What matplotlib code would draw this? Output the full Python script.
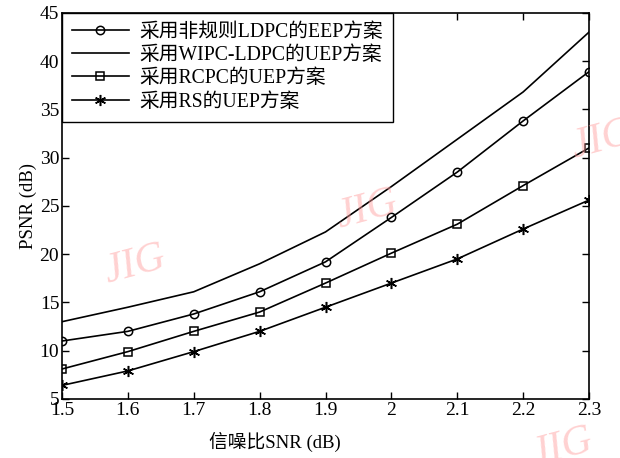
import matplotlib
matplotlib.use("Agg")
import matplotlib.pyplot as plt
import matplotlib.ticker as ticker

# 信噪比 (dB)
snr = [1.5, 1.6, 1.7, 1.8, 1.9, 2.0, 2.1, 2.2, 2.3]

# 各方案的 PSNR (dB)
psnr_eep_ldpc = [11.0, 12.0, 13.8, 16.1, 19.2, 23.8, 28.5, 33.8, 38.9]
psnr_uep_wipc = [13.0, 14.5, 16.1, 19.0, 22.3, 27.0, 31.9, 36.8, 43.0]
psnr_uep_rcpc = [8.1, 9.9, 12.0, 14.0, 17.0, 20.1, 23.1, 27.1, 31.0]
psnr_uep_rs = [6.4, 7.9, 9.9, 12.0, 14.5, 17.0, 19.5, 22.6, 25.6]

labels = [
    "采用非规则LDPC的EEP方案",
    "采用WIPC-LDPC的UEP方案",
    "采用RCPC的UEP方案",
    "采用RS的UEP方案",
]

plt.rcParams["font.family"] = ["Liberation Serif", "Noto Sans CJK SC"]
plt.rcParams["font.size"] = 11
plt.rcParams["xtick.direction"] = "in"
plt.rcParams["ytick.direction"] = "in"
plt.rcParams["xtick.top"] = True
plt.rcParams["ytick.right"] = True

fig = plt.figure(figsize=(6.2, 4.58), dpi=100)
ax = fig.add_axes([0.100, 0.129, 0.850, 0.843])

lw = 1.2
ax.plot(snr, psnr_eep_ldpc, color="black", lw=lw, marker="o", ms=6,
        mfc="none", mec="black", mew=1.1, label=labels[0])
ax.plot(snr, psnr_uep_wipc, color="black", lw=lw, label=labels[1])
ax.plot(snr, psnr_uep_rcpc, color="black", lw=lw, marker="s", ms=6,
        mfc="none", mec="black", mew=1.1, label=labels[2])
ax.plot(snr, psnr_uep_rs, color="black", lw=lw, marker=(6, 2, 0), ms=8,
        mec="black", mew=1.1, label=labels[3])

ax.set_xlim(1.5, 2.3)
ax.set_ylim(5, 45)
ax.xaxis.set_major_locator(ticker.MultipleLocator(0.1))
ax.yaxis.set_major_locator(ticker.MultipleLocator(5))
ax.xaxis.set_major_formatter(ticker.FuncFormatter(lambda v, p: f"{v:g}"))
ax.tick_params(length=5, width=1.0, labelsize=14, pad=2)
for spine in ax.spines.values():
    spine.set_linewidth(1.2)

ax.set_xlabel("信噪比SNR (dB)", fontsize=13.5)
ax.xaxis.set_label_coords(0.404, -0.085)
ax.set_ylabel("PSNR (dB)", fontsize=13.5, labelpad=2)

leg = ax.legend(loc="upper left", bbox_to_anchor=(0, 1), borderaxespad=0,
                fontsize=14.2, numpoints=1, handlelength=2.9, handletextpad=0.5,
                labelspacing=0.22, borderpad=0.5, fancybox=False,
                edgecolor="black", framealpha=1)
leg.get_frame().set_linewidth(1.0)

# 水印
wm = dict(color="#ff9999", alpha=0.45, fontsize=30, style="italic",
          rotation=15, ha="center", va="center",
          family=["Liberation Serif"])
for x, y in [(135, 265), (367, 210), (602, 140), (562, 448)]:
    fig.text(x / 620, 1 - y / 458, "JIG", **wm)

fig.savefig("out.png", dpi=100)
